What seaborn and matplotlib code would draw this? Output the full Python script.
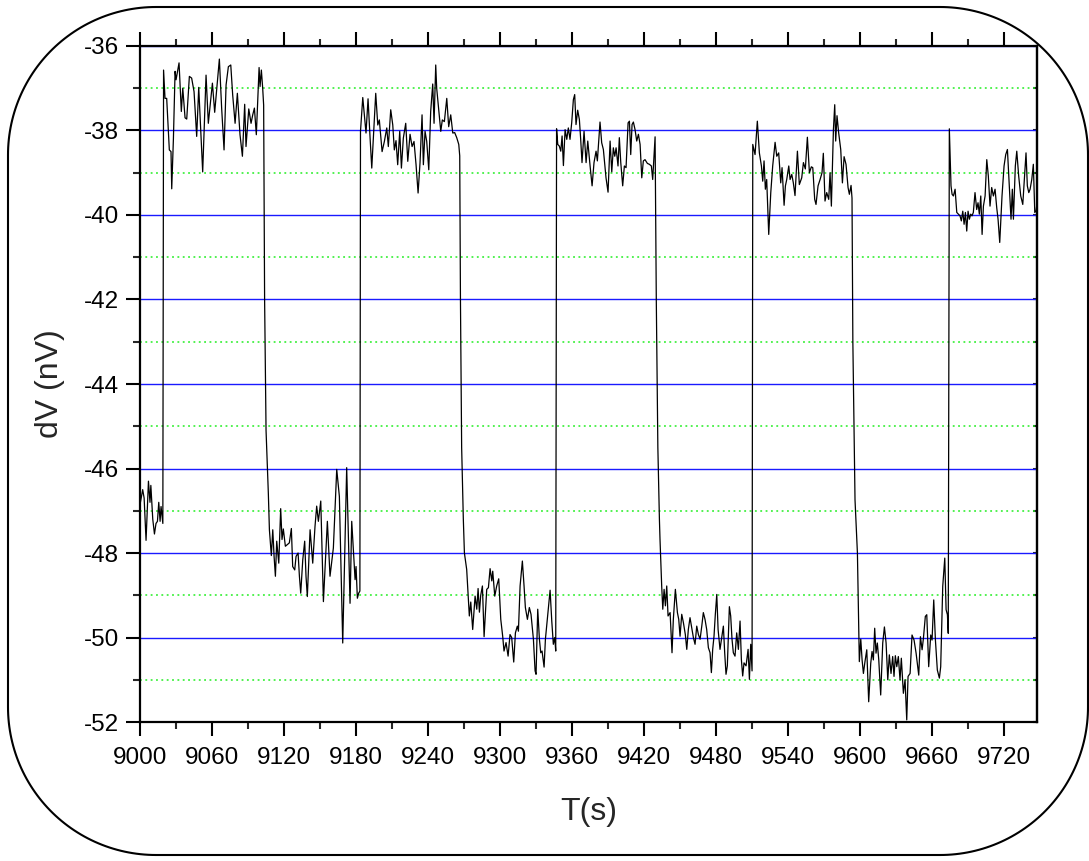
import numpy as np
import pandas as pd
import matplotlib
matplotlib.use("Agg")
import matplotlib.pyplot as plt
import seaborn as sns
from matplotlib.patches import Polygon
from matplotlib.ticker import MultipleLocator

# ---- measured signal, one list pair per plateau (time in s, voltage in nV) ----
t_low0 = [9000, 9002.2, 9003.4, 9005, 9007, 9008.3, 9009, 9010.6, 9012, 9013.3,
          9014.5, 9015.6, 9016.7, 9017.5, 9019.0]
v_low0 = [-46.85, -46.5, -46.7, -47.7, -46.3, -46.8, -46.4, -47.2, -47.55, -47.3,
          -47.25, -46.8, -47.25, -46.9, -47.3]

t_high1 = [9019.6, 9020.8, 9022.2, 9024.4, 9025.8, 9026.4, 9027.8, 9029.2, 9030, 9032.5,
           9034.4, 9035.6, 9037.5, 9038.9, 9041.1, 9043, 9045, 9047.2, 9048.9, 9052.2,
           9055, 9056.9, 9060.3, 9062.2, 9066.1, 9068, 9070, 9071.7, 9073.6, 9075.6,
           9077.2, 9079.2, 9081.1, 9083.3, 9085.3, 9087.2, 9088.3, 9090.6, 9092.5, 9093.9,
           9095.3, 9096.9, 9099.2, 9100, 9101.1, 9102.2, 9103.0]
v_high1 = [-36.57, -37.24, -37.24, -38.46, -38.5, -39.38, -38.2, -36.6, -36.8, -36.4,
           -37.55, -37.0, -37.7, -37.73, -36.72, -36.76, -37.08, -38.14, -36.98, -38.98,
           -36.69, -37.83, -36.88, -37.57, -36.31, -37.47, -38.46, -36.92, -36.49, -36.45,
           -37.16, -37.83, -37.12, -38.1, -38.61, -37.38, -38.38, -37.49, -37.83, -37.63,
           -37.47, -38.1, -36.51, -36.96, -36.57, -37.0, -37.4]

t_low1 = [9103.8, 9105.0, 9106.9, 9107.8, 9109.4, 9110.6, 9111.7, 9112.8, 9113.9, 9115.6,
          9117.2, 9118.3, 9119.4, 9121.1, 9122.8, 9124.4, 9126.1, 9127.2, 9128.9, 9130,
          9131.7, 9132.8, 9133.9, 9135.6, 9137.2, 9138.3, 9139.4, 9141.7, 9143.9, 9145.8,
          9147.2, 9148.6, 9150.6, 9152.8, 9156.1, 9158.3, 9161.1, 9163.9, 9166.1, 9168.9,
          9172.2, 9175, 9176.4, 9179.2, 9180, 9181.1, 9182.2, 9183.2]
v_low1 = [-42.0, -45.1, -46.58, -47.45, -48.06, -47.45, -48.08, -48.55, -47.72, -48.24,
          -46.95, -47.68, -47.43, -47.84, -47.8, -47.76, -47.42, -48.32, -48.4, -48.08,
          -48.0, -48.55, -48.95, -48.16, -47.72, -48.55, -49.03, -47.45, -48.24, -47.37,
          -46.89, -47.25, -46.77, -49.15, -47.25, -48.55, -47.88, -46.02, -46.66, -50.13,
          -45.98, -49.19, -47.25, -48.63, -48.32, -49.07, -48.95, -48.9]

t_high2 = [9183.7, 9185.6, 9186.9, 9188.3, 9190, 9191.7, 9193.1, 9194.4, 9196.4, 9198.1,
           9199.4, 9201.7, 9203.6, 9205.6, 9206.9, 9208.9, 9210.6, 9211.9, 9213.3, 9214.7,
           9216.4, 9217.8, 9219.4, 9221.4, 9223.1, 9225, 9226.7, 9228.3, 9230, 9231.7,
           9233.3, 9235, 9236.1, 9237.5, 9238.9, 9240.6, 9242.2, 9243.9, 9245, 9246.4,
           9247.2, 9248.9, 9250.6, 9251.9, 9253.6, 9255.6, 9257.2, 9258.9, 9260.6, 9262.2,
           9263.9, 9265.6, 9266.4]
v_high2 = [-38.02, -37.22, -37.63, -38.06, -37.25, -38.18, -38.89, -38.18, -37.12, -37.87,
           -37.75, -38.5, -38.26, -37.94, -38.38, -37.51, -37.87, -38.46, -38.24, -38.81,
           -38.02, -38.89, -38.18, -37.83, -38.73, -38.09, -38.38, -38.26, -38.81, -39.48,
           -38.77, -37.63, -38.81, -38.02, -38.26, -38.93, -37.55, -36.9, -37.83, -36.45,
           -37.0, -37.51, -38.02, -37.75, -37.79, -37.24, -37.91, -37.63, -38.06, -38.05,
           -38.17, -38.33, -38.6]

t_low2 = [9267.0, 9268.0, 9269.4, 9270.3, 9272.2, 9274.4, 9275.6, 9277.2, 9279.2, 9280.6,
          9281.7, 9282.8, 9283.9, 9285.3, 9286.7, 9288.9, 9290.3, 9291.7, 9293.1, 9293.9,
          9295.6, 9297.2, 9298.9, 9300.6, 9302.2, 9303.3, 9305, 9306.7, 9308.3, 9309.7,
          9311.4, 9312.8, 9314.4, 9315.3, 9316.7, 9318.6, 9320, 9321.1, 9322.8, 9324.4,
          9325.8, 9327.8, 9329.2, 9330, 9331.4, 9332.8, 9333.9, 9335, 9336.7, 9337.8,
          9339.4, 9341.7, 9343.1, 9344.4, 9345.6, 9346.4]
v_low2 = [-42.0, -45.5, -47.2, -48.0, -48.39, -49.49, -49.16, -49.81, -49.02, -49.33,
          -48.84, -49.4, -49.0, -48.78, -49.98, -48.86, -48.82, -48.37, -48.66, -48.43,
          -49.02, -48.78, -48.61, -49.57, -49.97, -50.32, -50.12, -50.44, -49.93, -50.0,
          -50.58, -49.89, -49.73, -49.85, -48.78, -48.19, -48.78, -49.29, -49.57, -49.29,
          -49.45, -50.04, -50.79, -50.87, -49.33, -50.04, -50.36, -50.32, -50.7, -50.04,
          -49.57, -48.88, -49.61, -50.16, -50.0, -50.32]

t_high3 = [9347.1, 9348.1, 9349.4, 9350.6, 9351.7, 9352.8, 9354.2, 9355.6, 9356.9, 9358.3,
           9359.7, 9361.1, 9362.2, 9363.3, 9364.7, 9366.1, 9367.2, 9368.3, 9370, 9371.7,
           9373.1, 9375, 9376.7, 9378.3, 9380, 9381.1, 9383.3, 9384.7, 9386.1, 9387.5,
           9388.3, 9390, 9391.7, 9393.1, 9394.4, 9395.6, 9396.7, 9398.3, 9399.4, 9400.6,
           9402.2, 9403.6, 9405, 9406.7, 9407.8, 9408.9, 9410, 9411.1, 9412.5, 9413.9,
           9415.3, 9416.7, 9418.1, 9419.4, 9420.8, 9422.8, 9424.4, 9426.1, 9427.2, 9429.2]
v_high3 = [-37.96, -38.33, -38.37, -38.49, -38.13, -38.83, -37.98, -38.21, -37.94, -38.21,
           -37.82, -37.27, -37.15, -37.86, -37.52, -37.74, -38.21, -38.76, -38.02, -38.76,
           -38.25, -38.83, -39.31, -38.76, -38.49, -38.72, -37.8, -38.29, -38.45, -38.88,
           -39.12, -39.46, -38.25, -38.98, -38.41, -38.61, -38.41, -38.84, -38.17, -38.76,
           -39.31, -38.84, -38.88, -37.82, -37.78, -38.57, -37.86, -37.8, -37.98, -38.25,
           -38.09, -38.33, -39.12, -38.72, -38.69, -38.78, -38.8, -38.84, -39.16, -38.15]

t_low3 = [9430.2, 9431.5, 9432.8, 9433.3, 9434.7, 9435.6, 9436.7, 9437.8, 9438.9, 9440,
          9441.7, 9443.3, 9444.4, 9446.1, 9447.8, 9448.9, 9450, 9451.4, 9452.8, 9454.4,
          9455.6, 9456.9, 9458.3, 9459.7, 9461.1, 9462.5, 9463.9, 9465.3, 9466.7, 9468.1,
          9469.4, 9470.8, 9472.2, 9473.6, 9475, 9476.1, 9477.2, 9478.3, 9479.4, 9480.6,
          9481.7, 9483.3, 9484.7, 9486.1, 9487.2, 9488.3, 9489.4, 9491.1, 9492.2, 9493.3,
          9494.4, 9495.8, 9497.2, 9498.6, 9500, 9501.1, 9502.2, 9503.3, 9505, 9506.7,
          9507.8, 9508.9, 9510.0]
v_low3 = [-42.0, -45.5, -47.2, -47.68, -48.78, -49.33, -48.86, -49.25, -48.78, -49.49,
          -49.41, -50.36, -49.57, -48.86, -49.41, -49.57, -49.97, -49.45, -49.65, -49.93,
          -50.28, -49.81, -49.53, -49.77, -50.0, -50.16, -49.73, -49.93, -50.04, -49.73,
          -49.41, -49.57, -49.81, -50.24, -50.36, -50.83, -50.28, -49.97, -49.45, -48.98,
          -49.81, -50.28, -50.0, -49.73, -50.36, -50.87, -50.67, -49.27, -49.49, -50.04,
          -50.36, -50.44, -49.89, -50.28, -49.61, -50.52, -50.91, -50.6, -50.67, -50.28,
          -50.99, -50.16, -50.79]

t_high4 = [9510.6, 9512.5, 9514.4, 9516.1, 9517.8, 9518.9, 9520, 9521.1, 9522.2, 9523.9,
           9525.6, 9527.2, 9529.2, 9530.6, 9532.2, 9533.9, 9535, 9536.7, 9537.8, 9538.9,
           9540.6, 9541.7, 9543.1, 9544.4, 9545.8, 9547.8, 9549.4, 9551.4, 9552.8, 9554.4,
           9556.1, 9557.8, 9559.4, 9560.6, 9562.2, 9563.3, 9565, 9566.7, 9568.3, 9569.4,
           9570.8, 9572.2, 9573.9, 9575, 9576.1, 9577.8, 9578.9, 9579.7, 9580.8, 9582.2,
           9583.9, 9585.3, 9586.7, 9588.3, 9590, 9591.1, 9592.5, 9593.3]
v_high4 = [-38.33, -38.57, -37.78, -38.53, -38.84, -39.2, -38.72, -39.39, -39.16, -40.46,
           -39.47, -38.84, -38.28, -38.61, -38.53, -39.24, -38.88, -39.77, -39.31, -39.16,
           -38.84, -39.16, -39.04, -39.24, -39.54, -38.49, -39.28, -39.12, -38.76, -38.91,
           -38.16, -39.0, -38.86, -38.88, -39.63, -39.75, -39.31, -39.16, -39.0, -38.54,
           -39.67, -39.47, -39.63, -39.0, -39.79, -37.98, -37.39, -38.25, -37.65, -38.06,
           -38.45, -39.24, -38.62, -38.8, -39.35, -39.51, -39.3, -39.6]

t_low4 = [9594.0, 9595.8, 9597.8, 9598.6, 9599.4, 9600.6, 9601.7, 9602.8, 9603.9, 9605.6,
          9607.2, 9608.9, 9610, 9611.1, 9612.2, 9613.3, 9614.4, 9615.6, 9617.2, 9618.9,
          9620.3, 9621.7, 9623.1, 9624.4, 9625.8, 9627.2, 9628.3, 9629.4, 9630.6, 9631.9,
          9633.3, 9634.4, 9636.1, 9637.5, 9638.9, 9640, 9641.7, 9643.3, 9645, 9646.7,
          9648.9, 9650.3, 9651.7, 9652.8, 9654.4, 9655.6, 9657.2, 9658.9, 9660, 9661.4,
          9662.8, 9664.4, 9666.1, 9667.2, 9668.9, 9670.6, 9671.7, 9672.8, 9673.5]
v_low4 = [-43.0, -46.74, -48.0, -49.3, -50.57, -50.04, -50.53, -50.85, -50.61, -50.29,
          -51.52, -50.61, -50.33, -50.53, -49.78, -50.37, -50.13, -50.53, -51.36, -50.13,
          -49.75, -50.13, -51.0, -50.41, -50.85, -50.45, -50.92, -50.43, -50.69, -50.45,
          -51.0, -50.49, -51.32, -51.0, -51.95, -50.92, -50.85, -49.94, -50.06, -50.37,
          -50.89, -49.98, -50.29, -50.02, -49.5, -49.46, -50.69, -49.94, -50.06, -49.11,
          -50.06, -50.77, -50.96, -50.69, -48.79, -48.12, -49.34, -49.46, -49.9]

t_high5 = [9674.4, 9675.8, 9676.7, 9677.8, 9679.2, 9680.6, 9681.9, 9683.3, 9684.4, 9685.6,
           9686.7, 9687.8, 9688.9, 9690, 9691.1, 9692.2, 9693.3, 9694.4, 9695.8, 9697.2,
           9698.3, 9699.4, 9700.6, 9701.7, 9702.8, 9704.2, 9705.6, 9706.9, 9708.3, 9709.7,
           9711.1, 9712.5, 9713.9, 9715, 9716.4, 9718.3, 9720, 9721.4, 9722.8, 9724.4,
           9725.8, 9726.9, 9727.8, 9729.4, 9730.6, 9732.2, 9733.9, 9735.6, 9736.7, 9738.3,
           9739.4, 9740.6, 9741.7, 9743.1, 9744.4, 9745.6, 9746.7, 9748.0]
v_high5 = [-37.96, -39.31, -39.51, -39.55, -39.39, -39.94, -39.98, -40.02, -40.14, -39.91,
           -40.22, -39.94, -40.38, -39.91, -40.1, -39.98, -40.02, -39.94, -39.47, -39.87,
           -39.71, -39.98, -39.55, -40.46, -39.79, -39.55, -38.69, -39.08, -39.79, -39.35,
           -39.55, -39.39, -39.83, -40.1, -40.65, -39.55, -38.84, -38.57, -38.45, -39.31,
           -40.1, -39.39, -40.1, -38.84, -38.49, -39.08, -39.55, -39.75, -39.24, -38.53,
           -39.31, -39.47, -39.39, -39.16, -38.8, -39.94, -39.9, -39.6]

x_ticks = [9000, 9060, 9120, 9180, 9240, 9300, 9360, 9420, 9480, 9540, 9600, 9660, 9720]
y_ticks = [-52, -50, -48, -46, -44, -42, -40, -38, -36]

segments = [(t_low0, v_low0), (t_high1, v_high1), (t_low1, v_low1), (t_high2, v_high2),
            (t_low2, v_low2), (t_high3, v_high3), (t_low3, v_low3), (t_high4, v_high4),
            (t_low4, v_low4), (t_high5, v_high5)]
df = pd.DataFrame({
    "T": np.concatenate([np.asarray(t, float) for t, _ in segments]),
    "dV": np.concatenate([np.asarray(v, float) for _, v in segments]),
})

# ---- styling ----
sns.set_style("ticks")
plt.rcParams["font.family"] = ["Liberation Sans", "DejaVu Sans"]
plt.rcParams["axes.unicode_minus"] = False

fig = plt.figure(figsize=(10.89, 8.61), dpi=100)
ax = fig.add_axes([0.1286, 0.1614, 0.8237, 0.7852])

sns.lineplot(data=df, x="T", y="dV", ax=ax, color="black", linewidth=0.9,
             estimator=None, sort=False, legend=False)

ax.set_xlim(9000, 9747.5)
ax.set_ylim(-52, -36)
ax.set_xticks(x_ticks)
ax.set_yticks(y_ticks)
ax.set_xticklabels([str(v) for v in x_ticks])
ax.set_yticklabels([str(v) for v in y_ticks])
ax.xaxis.set_minor_locator(MultipleLocator(30))
ax.yaxis.set_minor_locator(MultipleLocator(1))

# horizontal grid: solid blue on even values, dotted green on odd values
ax.yaxis.grid(True, which="major", color="#1a1aff", linewidth=1.0, linestyle="-")
ax.yaxis.grid(True, which="minor", color="#22ee22", linewidth=1.1, linestyle=(0, (1.2, 2.3)))
ax.xaxis.grid(False)
ax.set_axisbelow(True)

for side in ["left", "right", "top", "bottom"]:
    ax.spines[side].set_visible(True)
    ax.spines[side].set_linewidth(1.6)
    ax.spines[side].set_color("black")

ax.tick_params(axis="x", which="major", direction="out", length=10, width=1.5,
               top=True, bottom=True, labeltop=False, labelsize=17.5, pad=8, colors="black")
ax.tick_params(axis="x", which="minor", direction="out", length=5, width=1.5,
               top=True, bottom=True)
ax.tick_params(axis="y", which="major", direction="out", length=10, width=1.5,
               left=True, right=False, labelsize=17.5, pad=5, colors="black")
ax.tick_params(axis="y", which="minor", direction="out", length=5, width=1.5,
               left=True, right=False)

# short inward ticks on the right frame
sec = ax.secondary_yaxis("right")
sec.set_yticks(y_ticks)
sec.yaxis.set_minor_locator(MultipleLocator(1))
sec.tick_params(which="both", direction="in", length=3, width=1.5, labelright=False)
sec.spines["right"].set_linewidth(1.6)

ax.set_xlabel("T(s)", fontsize=23, labelpad=20)
ax.set_ylabel("dV (nV)", fontsize=23, labelpad=14)

# rounded frame around the whole figure (circular corners, sizes in inches)
x0, x1, y0, y1, r = 0.08, 10.88, 0.06, 8.54, 1.48
a = np.linspace(0, np.pi / 2, 60)
corners = [
    (x1 - r, y1 - r, a),                 # top-right
    (x0 + r, y1 - r, a + np.pi / 2),     # top-left
    (x0 + r, y0 + r, a + np.pi),         # bottom-left
    (x1 - r, y0 + r, a + 1.5 * np.pi),   # bottom-right
]
pts = np.vstack([np.column_stack([cx + r * np.cos(th), cy + r * np.sin(th)])
                 for cx, cy, th in corners])
frame = Polygon(pts, closed=True, fill=False, edgecolor="black", linewidth=1.5,
                transform=fig.dpi_scale_trans, clip_on=False)
fig.add_artist(frame)

fig.savefig("out.png", dpi=100, facecolor="white")
